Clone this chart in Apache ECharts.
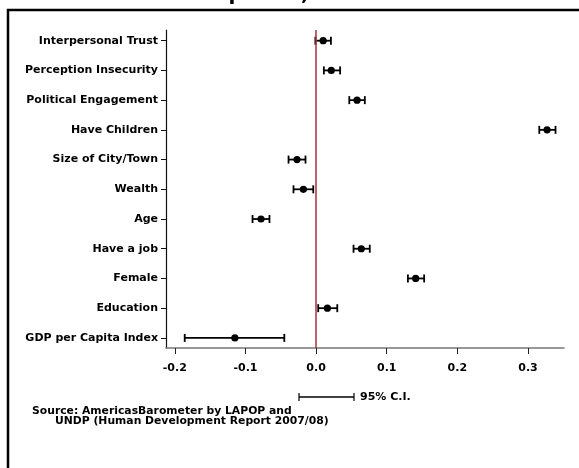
<!DOCTYPE html>
<html>
<head>
<meta charset="utf-8">
<script src="https://cdn.jsdelivr.net/npm/echarts@6/dist/echarts.min.js"></script>
<style>
html,body{margin:0;padding:0;background:#fff;}
#chart{width:579px;height:468px;}
</style>
</head>
<body>
<div id="chart"></div>
<script>
var categories = ['Interpersonal Trust','Perception Insecurity','Political Engagement','Have Children','Size of City/Town','Wealth','Age','Have a job','Female','Education','GDP per Capita Index'];
var estimates = [0.010, 0.0215, 0.058, 0.327, -0.027, -0.018, -0.078, 0.064, 0.141, 0.016, -0.115];
var ciLower  = [-0.001, 0.011, 0.047, 0.316, -0.039, -0.032, -0.090, 0.053, 0.130, 0.003, -0.186];
var ciUpper  = [0.021, 0.034, 0.069, 0.339, -0.015, -0.004, -0.066, 0.076, 0.153, 0.030, -0.045];
var xTicks = [-0.2, -0.1, 0, 0.1, 0.2, 0.3];
var yTicks = categories.map(function(c, i){ return i; });

var data = categories.map(function(c, i){ return [i, estimates[i], ciLower[i], ciUpper[i]]; });
var FONT = '"DejaVu Sans", Arial, sans-serif';

var chart = echarts.init(document.getElementById('chart'), null, {renderer:'canvas'});
chart.setOption({
  animation: false,
  backgroundColor: '#fff',
  grid: {left: 166, right: 15, top: 30, bottom: 120},
  xAxis: {
    type: 'value', min: -0.2125, max: 0.351,
    splitLine: {show: false},
    axisLine: {show: true, onZero: false, lineStyle: {color: '#777', width: 1.5}},
    axisTick: {show: true, customValues: xTicks, length: 6, lineStyle: {color: '#222', width: 1}},
    axisLabel: {customValues: xTicks, margin: 15, color: '#000', fontWeight: 'bold', fontSize: 11, fontFamily: FONT,
      formatter: function(v){ return v.toFixed(1); }}
  },
  yAxis: {
    type: 'value', inverse: true, min: -0.36, max: 10.34,
    splitLine: {show: false},
    axisLine: {show: true, onZero: false, lineStyle: {color: '#111', width: 1.2}},
    axisTick: {show: true, customValues: yTicks, length: 5, lineStyle: {color: '#111', width: 1}},
    axisLabel: {customValues: yTicks, margin: 8, color: '#000', fontWeight: 'bold', fontSize: 11, fontFamily: FONT,
      formatter: function(v){ return categories[Math.round(v)]; }}
  },
  series: [{
    type: 'custom',
    data: data,
    encode: {x: [1,2,3], y: 0},
    renderItem: function(params, api){
      var y = api.value(0);
      var p = api.coord([api.value(1), y]);
      var lo = api.coord([api.value(2), y]);
      var hi = api.coord([api.value(3), y]);
      var cap = 4;
      return {type: 'group', children: [
        {type:'line', shape:{x1:lo[0], y1:lo[1], x2:hi[0], y2:hi[1]}, style:{stroke:'#000', lineWidth:1.8}},
        {type:'line', shape:{x1:lo[0], y1:lo[1]-cap, x2:lo[0], y2:lo[1]+cap}, style:{stroke:'#000', lineWidth:1.8}},
        {type:'line', shape:{x1:hi[0], y1:hi[1]-cap, x2:hi[0], y2:hi[1]+cap}, style:{stroke:'#000', lineWidth:1.8}},
        {type:'circle', shape:{cx:p[0], cy:p[1], r:3.6}, style:{fill:'#000'}}
      ]};
    },
    markLine: {
      silent: true, symbol: 'none', label: {show: false},
      lineStyle: {color: '#a3333d', width: 1.5, type: 'solid'},
      data: [{xAxis: 0}]
    },
    z: 3
  }],
  graphic: [
    {type:'text', left: 8, top: -15, style:{text:'of Economic Development, 2008', font:'bold 20px ' + FONT, fill:'#000'}},
    {type:'polyline', shape:{points:[[8,468],[8,10],[579,10]]}, style:{stroke:'#000', lineWidth:2.5, fill:null}},
    {type:'line', shape:{x1:299, y1:397, x2:354, y2:397}, style:{stroke:'#000', lineWidth:1.5}},
    {type:'line', shape:{x1:299, y1:393, x2:299, y2:401}, style:{stroke:'#000', lineWidth:1.2}},
    {type:'line', shape:{x1:354, y1:393, x2:354, y2:401}, style:{stroke:'#000', lineWidth:1.2}},
    {type:'text', x: 360, y: 397, style:{text:'95% C.I.', font:'bold 11px ' + FONT, fill:'#000', verticalAlign:'middle'}},
    {type:'text', x: 32, y: 411, style:{text:'Source: AmericasBarometer by LAPOP and', font:'bold 10.8px ' + FONT, fill:'#000', verticalAlign:'middle'}},
    {type:'text', x: 55, y: 421, style:{text:'UNDP (Human Development Report 2007/08)', font:'bold 10.8px ' + FONT, fill:'#000', verticalAlign:'middle'}}
  ]
});
</script>
</body>
</html>
